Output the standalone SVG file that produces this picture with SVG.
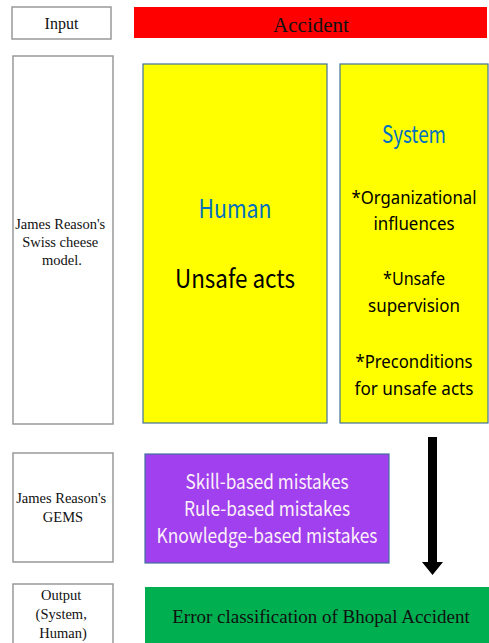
<svg xmlns="http://www.w3.org/2000/svg" width="489" height="643" viewBox="0 0 489 643">
  <defs>
    <style>
      .label { fill: #fff; stroke: #999; stroke-width: 1.5; }
      .serif { font-family: "Liberation Serif", "Times New Roman", serif; fill: #111; text-anchor: middle; }
      .sans { font-family: "Noto Sans CJK KR", "Noto Sans", sans-serif; text-anchor: middle; }
      .list { font-family: "Noto Sans", sans-serif; text-anchor: middle; font-size: 18px; fill: #000; }
      .yellow { fill: #ffff00; stroke: #41719c; stroke-width: 1.2; }
      .blue { fill: #0070c0; }
    </style>
  </defs>
  <rect width="489" height="643" fill="#fff"/>

  <!-- row labels -->
  <g id="input-label">
    <rect class="label" x="12" y="7" width="99" height="32"/>
    <text class="serif" x="61.5" y="29" font-size="16">Input</text>
  </g>
  <g id="swiss-label">
    <rect class="label" x="13" y="56" width="100" height="368"/>
    <text class="serif" font-size="14.5">
      <tspan x="62" y="229">James Reason's</tspan>
      <tspan x="62" y="247">Swiss cheese</tspan>
      <tspan x="62" y="265">model.</tspan>
    </text>
  </g>
  <g id="gems-label">
    <rect class="label" x="13" y="453" width="100" height="109"/>
    <text class="serif" font-size="14.5">
      <tspan x="63" y="503">James Reason's</tspan>
      <tspan x="63" y="522">GEMS</tspan>
    </text>
  </g>
  <g id="output-label">
    <rect class="label" x="13" y="584" width="100" height="70"/>
    <text class="serif" font-size="14.5">
      <tspan x="63" y="600">Output</tspan>
      <tspan x="63" y="619">(System,</tspan>
      <tspan x="63" y="638">Human)</tspan>
    </text>
  </g>

  <!-- content column -->
  <g id="accident">
    <rect x="134" y="7" width="353" height="31" fill="#ff0000"/>
    <text class="serif" x="311" y="32" font-size="21">Accident</text>
  </g>
  <g id="human">
    <rect class="yellow" x="143" y="64" width="184" height="359"/>
    <text class="sans blue" x="235" y="218" font-size="25" textLength="73" lengthAdjust="spacingAndGlyphs">Human</text>
    <text class="sans" x="235" y="288" font-size="25" fill="#000" textLength="120" lengthAdjust="spacingAndGlyphs">Unsafe acts</text>
  </g>
  <g id="system">
    <rect class="yellow" x="340" y="64" width="148" height="359"/>
    <text class="sans blue" x="414" y="143" font-size="24" textLength="64" lengthAdjust="spacingAndGlyphs">System</text>
    <text class="list" x="414" y="204" textLength="125" lengthAdjust="spacingAndGlyphs">*Organizational</text>
    <text class="list" x="414" y="230" textLength="81" lengthAdjust="spacingAndGlyphs">influences</text>
    <text class="list" x="414" y="285" textLength="62" lengthAdjust="spacingAndGlyphs">*Unsafe</text>
    <text class="list" x="414" y="312" textLength="92" lengthAdjust="spacingAndGlyphs">supervision</text>
    <text class="list" x="414" y="368" textLength="117" lengthAdjust="spacingAndGlyphs">*Preconditions</text>
    <text class="list" x="414" y="395" textLength="119" lengthAdjust="spacingAndGlyphs">for unsafe acts</text>
  </g>
  <g id="gems">
    <rect x="145" y="454" width="244" height="109" fill="#a040ee" stroke="#41719c" stroke-width="1.2"/>
    <g class="sans" font-size="20" fill="#fdf0f8">
      <text x="267" y="489" textLength="163" lengthAdjust="spacingAndGlyphs">Skill-based mistakes</text>
      <text x="267" y="516" textLength="166" lengthAdjust="spacingAndGlyphs">Rule-based mistakes</text>
      <text x="267" y="543" textLength="221" lengthAdjust="spacingAndGlyphs">Knowledge-based mistakes</text>
    </g>
  </g>
  <g id="classification">
    <rect x="145" y="587" width="344" height="56" fill="#00b050"/>
    <text class="serif" x="321" y="623" font-size="19">Error classification of Bhopal Accident</text>
  </g>

  <!-- connectors -->
  <g id="connectors">
    <path d="M428 437 H437 V562 H443 L432.5 575 L422 562 H428 Z" fill="#000"/>
  </g>
</svg>
